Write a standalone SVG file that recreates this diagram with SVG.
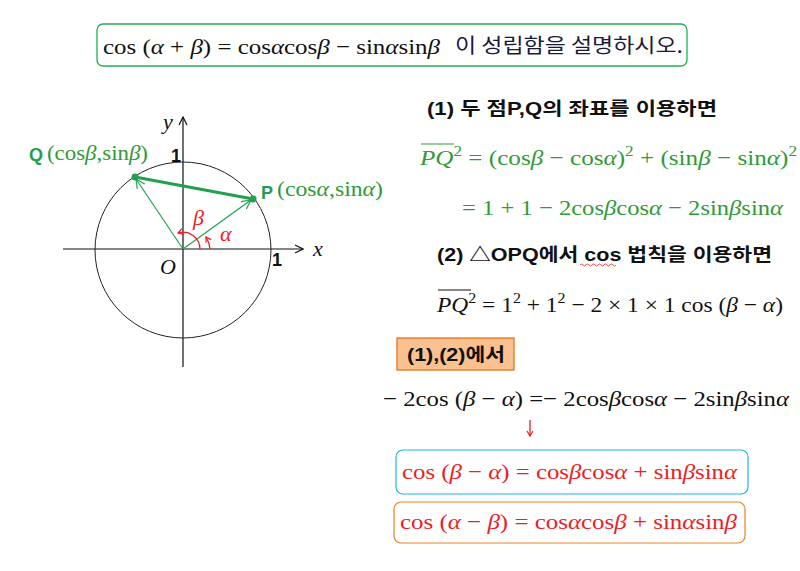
<svg xmlns="http://www.w3.org/2000/svg" width="800" height="571" viewBox="0 0 800 571">
<defs>
<style>
.m{font-family:"Liberation Serif","DejaVu Serif",serif;font-size:22px}
.i{font-style:italic}
.g{fill:#2f9a36}
.r{fill:#ee1c25}
.k{fill:#111}
.h{font-family:"Liberation Sans","Noto Sans CJK KR",sans-serif;font-weight:bold;font-size:18px;fill:#111}
.ko{font-family:"Noto Sans CJK KR",sans-serif;font-size:20px;fill:#1a1a3a}
.ax{stroke:#111;stroke-width:1.2;fill:none}
.gl{stroke:#22a050;fill:none}
.ra{stroke:#ee1c25;stroke-width:1.3;fill:none}
</style>
<marker id="ak" markerWidth="10" markerHeight="10" refX="9" refY="5" orient="auto" markerUnits="userSpaceOnUse"><path d="M1,1 L9,5 L1,9" fill="none" stroke="#111" stroke-width="1.2"/></marker>
<marker id="ag" markerWidth="12" markerHeight="12" refX="10" refY="6" orient="auto" markerUnits="userSpaceOnUse"><path d="M1,1.5 L10,6 L1,10.5" fill="none" stroke="#22a050" stroke-width="1.2"/></marker>
<marker id="ar" markerWidth="8" markerHeight="8" refX="6" refY="4" orient="auto" markerUnits="userSpaceOnUse"><path d="M1,1 L6,4 L1,7" fill="none" stroke="#ee1c25" stroke-width="1.2"/></marker>
</defs>
<rect width="800" height="571" fill="#fff"/>

<g id="title">
<rect x="97" y="24" width="590" height="42" rx="6" fill="#fff" stroke="#22b050" stroke-width="1.3"/>
<text x="103" y="54" class="m k" textLength="337" lengthAdjust="spacingAndGlyphs">cos (<tspan class="i">α</tspan> + <tspan class="i">β</tspan>) = cos<tspan class="i">α</tspan>cos<tspan class="i">β</tspan> − sin<tspan class="i">α</tspan>sin<tspan class="i">β</tspan></text>
<text x="455" y="53" class="ko" textLength="228" lengthAdjust="spacingAndGlyphs">이 성립함을 설명하시오.</text>
</g>

<g id="axes">
<line x1="63" y1="249" x2="303" y2="249" class="ax" marker-end="url(#ak)"/>
<line x1="183" y1="367" x2="183" y2="117" class="ax" marker-end="url(#ak)"/>
<circle cx="183" cy="250" r="88" fill="none" stroke="#222" stroke-width="1"/>
<text x="313" y="256" class="m i k" font-size="19">x</text>
<text x="163" y="129" class="m i k" font-size="19">y</text>
<text x="160" y="274" class="m i k" font-size="20">O</text>
<text x="272" y="266" class="h" font-size="17">1</text>
<text x="171" y="162" class="h" font-size="17">1</text>
</g>

<g id="connectors">
<line x1="183" y1="249" x2="251" y2="200" class="gl" stroke-width="1.2" marker-end="url(#ag)"/>
<line x1="183" y1="249" x2="136" y2="179" class="gl" stroke-width="1.2" marker-end="url(#ag)"/>
<line x1="135" y1="177" x2="253" y2="199" class="gl" stroke-width="3"/>
<path d="M200,249 A17,17 0 0,0 178,233" class="ra" marker-end="url(#ar)"/>
<path d="M210,249 A27,27 0 0,0 206,237" class="ra" marker-end="url(#ar)"/>
<line x1="530" y1="420" x2="530" y2="436" class="ra" stroke-width="1" marker-end="url(#ar)"/>
</g>

<g id="pointQ">
<circle cx="135" cy="177" r="3.5" fill="#22a050"/>
<text x="29" y="161" class="h" style="fill:#22a050" font-size="19">Q</text>
<text x="47" y="160" class="m g" textLength="101" lengthAdjust="spacingAndGlyphs">(cos<tspan class="i">β</tspan>,sin<tspan class="i">β</tspan>)</text>
</g>
<g id="pointP">
<circle cx="253" cy="199" r="3.5" fill="#22a050"/>
<text x="261" y="199" class="h" style="fill:#22a050" font-size="19">P</text>
<text x="277" y="196" class="m g" textLength="106" lengthAdjust="spacingAndGlyphs">(cos<tspan class="i">α</tspan>,sin<tspan class="i">α</tspan>)</text>
</g>
<g id="angles">
<text x="193" y="225" class="m i r" font-size="21">β</text>
<text x="220" y="241" class="m i r" font-size="21">α</text>
</g>

<g id="step1">
<text x="427" y="115" class="h" textLength="290" lengthAdjust="spacingAndGlyphs">(1) 두 점P,Q의 좌표를 이용하면</text>
<line x1="421" y1="144" x2="454" y2="144" stroke="#2f9a36" stroke-width="1"/>
<text x="420" y="165" class="m g" textLength="377" lengthAdjust="spacingAndGlyphs"><tspan class="i">PQ</tspan><tspan font-size="15" dy="-9">2</tspan><tspan dy="9"> = (cos</tspan><tspan class="i">β</tspan> − cos<tspan class="i">α</tspan>)<tspan font-size="15" dy="-9">2</tspan><tspan dy="9"> + (sin</tspan><tspan class="i">β</tspan> − sin<tspan class="i">α</tspan>)<tspan font-size="15" dy="-9">2</tspan></text>
<text x="462" y="215" class="m g" textLength="321" lengthAdjust="spacingAndGlyphs">= 1 + 1 − 2cos<tspan class="i">β</tspan>cos<tspan class="i">α</tspan> − 2sin<tspan class="i">β</tspan>sin<tspan class="i">α</tspan></text>
</g>

<g id="step2">
<text x="437" y="261" class="h" textLength="335" lengthAdjust="spacingAndGlyphs">(2) △OPQ에서 cos 법칙을 이용하면</text>
<path d="M580,265 q1.5,-2 3,0 t3,0 t3,0 t3,0 t3,0 t3,0 t3,0 t3,0 t3,0 t3,0 t3,0 t3,0" fill="none" stroke="#e02020" stroke-width="0.8"/>
<line x1="438" y1="290" x2="471" y2="290" stroke="#111" stroke-width="1"/>
<text x="437" y="312" class="m k" textLength="346" lengthAdjust="spacingAndGlyphs"><tspan class="i">PQ</tspan><tspan font-size="15" dy="-9">2</tspan><tspan dy="9"> = 1</tspan><tspan font-size="15" dy="-9">2</tspan><tspan dy="9"> + 1</tspan><tspan font-size="15" dy="-9">2</tspan><tspan dy="9"> − 2 × 1 × 1 cos (</tspan><tspan class="i">β</tspan> − <tspan class="i">α</tspan>)</text>
</g>

<g id="combine">
<rect x="397" y="338" width="117" height="32" fill="#fac08f" stroke="#e46c0a" stroke-width="1.2"/>
<text x="407" y="361" class="h" textLength="98" lengthAdjust="spacingAndGlyphs">(1),(2)에서</text>
<text x="383" y="406" class="m k" textLength="406" lengthAdjust="spacingAndGlyphs">− 2cos (<tspan class="i">β</tspan> − <tspan class="i">α</tspan>) =− 2cos<tspan class="i">β</tspan>cos<tspan class="i">α</tspan> − 2sin<tspan class="i">β</tspan>sin<tspan class="i">α</tspan></text>
</g>

<g id="result1">
<rect x="396" y="450" width="352" height="44" rx="7" fill="#fff" stroke="#1eb4e8" stroke-width="1.2"/>
<text x="402" y="479" class="m r" textLength="335" lengthAdjust="spacingAndGlyphs">cos (<tspan class="i">β</tspan> − <tspan class="i">α</tspan>) = cos<tspan class="i">β</tspan>cos<tspan class="i">α</tspan> + sin<tspan class="i">β</tspan>sin<tspan class="i">α</tspan></text>
</g>
<g id="result2">
<rect x="394" y="502" width="351" height="41" rx="7" fill="#fff" stroke="#e8822a" stroke-width="1.2"/>
<text x="400" y="529" class="m r" textLength="337" lengthAdjust="spacingAndGlyphs">cos (<tspan class="i">α</tspan> − <tspan class="i">β</tspan>) = cos<tspan class="i">α</tspan>cos<tspan class="i">β</tspan> + sin<tspan class="i">α</tspan>sin<tspan class="i">β</tspan></text>
</g>
</svg>
